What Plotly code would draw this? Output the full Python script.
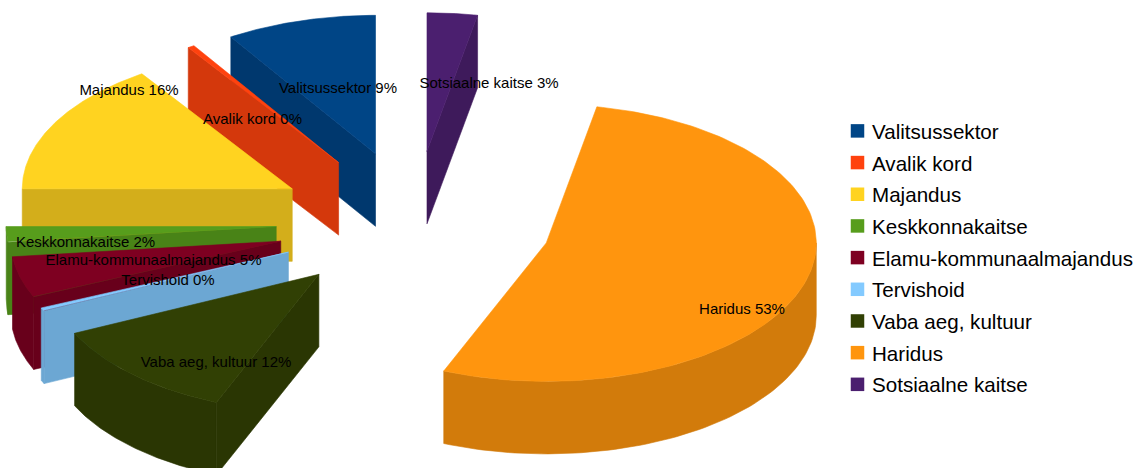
import numpy as np
import plotly.graph_objects as go

categories = ["Valitsussektor", "Avalik kord", "Majandus", "Keskkonnakaitse",
              "Elamu-kommunaalmajandus", "Tervishoid", "Vaba aeg, kultuur",
              "Haridus", "Sotsiaalne kaitse"]
values = [9.0, 0.4, 15.6, 1.8, 4.8, 0.4, 11.8, 53.2, 3.0]
top_colors = ["#004586", "#ff420e", "#ffd320", "#579d1c", "#7e0021",
              "#83caff", "#314004", "#ff950e", "#4b1f6f"]
side_colors = ["#00386e", "#d4380c", "#d3ae1b", "#498317", "#68001b",
               "#6ca7d3", "#2a3603", "#d27b0b", "#3e1a5b"]
draw_order = [0, 1, 2, 8, 3, 4, 5, 6, 7]
label_centers = [(338, 89), (252.5, 120), (129, 91), (85.5, 243), (153.5, 261),
                 (168, 281), (216, 363), (742, 310), (489, 84)]

# projected pie geometry, in pixels of the picture
CX, CY = 414, 222.5
RX, RY = 270, 138.5
EXPLODE_X, EXPLODE_Y = 138, 71.5
DEPTH = 72.5


def rim(angle, cx, cy, dz=0):
    a = np.radians(angle)
    return cx + RX * np.sin(a), cy - RY * np.cos(a) + dz


def poly(fig, xs, ys, color):
    fig.add_trace(go.Scatter(x=list(xs) + [xs[0]], y=list(ys) + [ys[0]], mode="lines",
                             fill="toself", fillcolor=color,
                             line=dict(color=color, width=0.6),
                             showlegend=False, hoverinfo="skip"))


fig = go.Figure()

# legend entries
for name, color in zip(categories, top_colors):
    fig.add_trace(go.Scatter(x=[None], y=[None], mode="markers", name=name, legendgroup=name,
                             marker=dict(symbol="square", size=13.5, color=color)))

# slices run counter-clockwise from twelve o'clock
ends = 360 - np.cumsum(values) * 3.6
starts = ends + np.array(values) * 3.6

for i in draw_order:
    a, b = ends[i], starts[i]          # clockwise from a to b
    mid = np.radians((a + b) / 2)
    ax = CX + EXPLODE_X * np.sin(mid)
    ay = CY - EXPLODE_Y * np.cos(mid)
    top, side = top_colors[i], side_colors[i]

    # outer wall
    lo, hi = max(a, 90), min(b, 270)
    if hi > lo:
        th = np.linspace(lo, hi, 80)
        pts = [rim(t, ax, ay) for t in th] + [rim(t, ax, ay, DEPTH) for t in th[::-1]]
        poly(fig, [p[0] for p in pts], [p[1] for p in pts], side)

    # radial cut faces that look towards the viewer
    for ang, vis in ((a, np.sin(np.radians(a)) < 0), (b, np.sin(np.radians(b)) > 0)):
        if vis:
            ex, ey = rim(ang, ax, ay)
            poly(fig, [ax, ex, ex, ax], [ay, ey, ey + DEPTH, ay + DEPTH], side)

    # top surface
    th = np.linspace(a, b, 160)
    pts = [(ax, ay)] + [rim(t, ax, ay) for t in th]
    poly(fig, [p[0] for p in pts], [p[1] for p in pts], top)

# data labels
fig.add_trace(go.Scatter(
    x=[c[0] for c in label_centers], y=[c[1] for c in label_centers], mode="text",
    text=[f"{n} {round(v)}%" for n, v in zip(categories, values)],
    textposition="middle center", showlegend=False, hoverinfo="skip",
    textfont=dict(family="Liberation Sans", size=15, color="#000000")))

fig.update_layout(
    width=1136, height=468, margin=dict(l=0, r=0, t=0, b=0, autoexpand=False),
    paper_bgcolor="#ffffff", plot_bgcolor="#ffffff",
    xaxis=dict(range=[0, 1136], visible=False, fixedrange=True, automargin=False),
    yaxis=dict(range=[468, 0], visible=False, fixedrange=True, automargin=False),
    legend=dict(x=832 / 1136, y=1 - 111 / 468, xanchor="left", yanchor="top",
                font=dict(family="Liberation Sans", size=20.6, color="#000000"),
                tracegroupgap=1.9, traceorder="grouped", bgcolor="rgba(0,0,0,0)"),
)

post = """
document.body.style.margin='0';
document.querySelectorAll('.legendsymbols').forEach(function(g){g.setAttribute('transform','translate(5.5,0)');});
"""
fig.write_html("out.html", post_script=post, config=dict(displayModeBar=False))
